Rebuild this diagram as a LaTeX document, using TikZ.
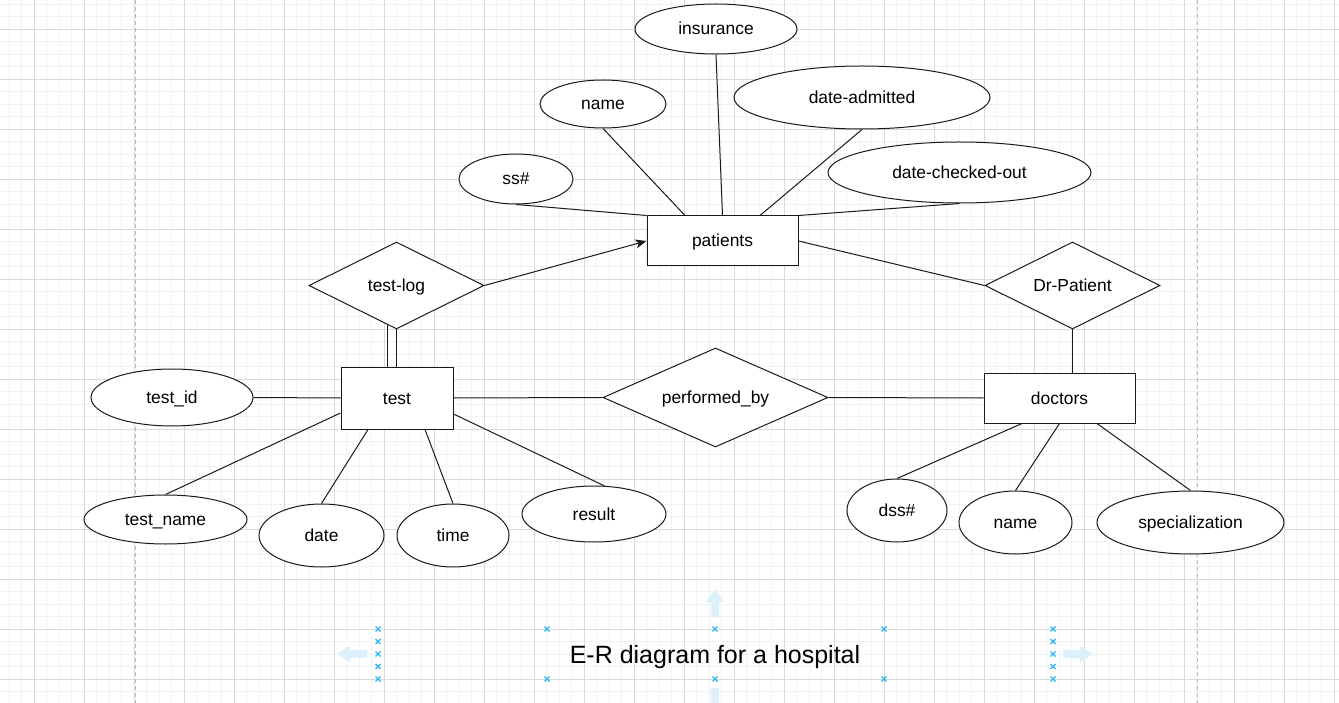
\documentclass[tikz,border=0pt]{standalone}
\usepackage{fontspec}
\setmainfont{Liberation Sans}
\usetikzlibrary{arrows.meta, calc, shapes.geometric}
\definecolor{gridMajor}{HTML}{DADADA}
\definecolor{gridMinor}{HTML}{F2F2F2}
\definecolor{pageLine}{HTML}{BDBDBD}
\definecolor{strokeMain}{HTML}{1A1A1A}
\definecolor{handleBlue}{HTML}{29B6F2}
\definecolor{hintBlue}{HTML}{DCF1FB}
\newcommand{\erlabel}{\fontsize{17.4pt}{21pt}\selectfont}
\newcommand{\ertitle}{\fontsize{25pt}{30pt}\selectfont}
\tikzset{
  labeltext/.style={
    font=\erlabel, text=black, text height=15.7pt, text depth=3.7pt,
  },
  entity/.style={
    rectangle, draw=strokeMain, fill=white, line width=1pt, inner sep=0pt,
    minimum width=151pt, minimum height=50pt, labeltext,
  },
  attrib/.style={
    ellipse, draw=strokeMain, fill=white, line width=1pt, inner sep=0pt,
    labeltext,
  },
  relation/.style={
    diamond, draw=strokeMain, fill=white, line width=1pt, inner sep=0pt,
    shape aspect=2, minimum width=175pt, minimum height=87pt, labeltext,
  },
  link/.style={
    draw=strokeMain, line width=1pt,
  },
  isalink/.style={
    link, -{Stealth[length=11pt, width=9pt, inset=3pt]},
  },
  gridminor/.style={draw=gridMinor, line width=0.8pt},
  gridmajor/.style={draw=gridMajor, line width=0.8pt},
  pageedge/.style={draw=pageLine, line width=0.9pt, dash pattern=on 4pt off 3pt},
  xmark/.style={draw=handleBlue, line width=1.3pt},
  hintarrow/.style={fill=hintBlue, draw=none},
}

\begin{document}
\begin{tikzpicture}[x=1pt, y=-1pt]

  % === Canvas and grid ===
  \useasboundingbox (0,0) rectangle (1339,703);
  \fill[white] (0,0) rectangle (1339,703);
  \foreach \gx in {9,21.5,...,1339} \draw[gridminor] (\gx,0) -- (\gx,703);
  \foreach \gy in {4,16.5,...,703} \draw[gridminor] (0,\gy) -- (1339,\gy);
  \foreach \gx in {34,84,...,1334} \draw[gridmajor] (\gx,0) -- (\gx,703);
  \foreach \gy in {29,79,...,679} \draw[gridmajor] (0,\gy) -- (1339,\gy);
  \draw[pageedge] (135,0) -- (135,703);
  \draw[pageedge] (1197,0) -- (1197,703);

  % === Entities ===
  \node[entity] (patients) at (722.5,241) {patients};
  \node[entity, minimum width=112pt, minimum height=62pt] (test) at (397,398) {test};
  \node[entity] (doctors) at (1059.5,398) {doctors};

  % === Relationships ===
  \node[relation] (testlog) at (396.5,285.5) {test-log};
  \node[relation] (drpatient) at (1072.5,285.5) {Dr-Patient};
  \node[relation, shape aspect=2.27, minimum width=225pt, minimum height=99pt] (performed) at (715.5,397.5) {performed\_by};

  % === Attributes: patients ===
  \node[attrib, minimum width=162pt, minimum height=50pt] (insurance) at (716,29) {insurance};
  \node[attrib, minimum width=126pt, minimum height=48pt] (nameP) at (603,104) {name};
  \node[attrib, minimum width=256pt, minimum height=63pt] (admitted) at (862,97.5) {date-admitted};
  \node[attrib, minimum width=114pt, minimum height=50pt] (ssn) at (516,179) {ss\#};
  \node[attrib, minimum width=263pt, minimum height=61pt] (checkedout) at (959.5,172.5) {date-checked-out};

  % === Attributes: test ===
  \node[attrib, minimum width=162pt, minimum height=57pt] (testid) at (172,397.5) {test\_id};
  \node[attrib, minimum width=163pt, minimum height=49pt] (testname) at (165.5,519.5) {test\_name};
  \node[attrib, minimum width=125pt, minimum height=63pt] (date) at (321.5,535.5) {date};
  \node[attrib, minimum width=112pt, minimum height=63pt] (time) at (453,535.5) {time};
  \node[attrib, minimum width=144pt, minimum height=56pt] (result) at (594,514) {result};

  % === Attributes: doctors ===
  \node[attrib, minimum width=100pt, minimum height=63pt] (dssn) at (897,510.5) {dss\#};
  \node[attrib, minimum width=113pt, minimum height=63pt] (nameD) at (1015.5,522.5) {name};
  \node[attrib, minimum width=187pt, minimum height=63pt] (special) at (1190.5,522.5) {specialization};

  % === Connectors: patients ===
  \draw[link] (ssn.south) -- (patients.north west);
  \draw[link] (nameP.south) -- ([xshift=-37.5pt]patients.north);
  \draw[link] (insurance.south) -- (patients.north);
  \draw[link] (admitted.south) -- ([xshift=37.5pt]patients.north);
  \draw[link] (checkedout.south) -- (patients.north east);

  % === Connectors: relationships ===
  \draw[isalink] (testlog.east) -- (patients.west);
  \draw[link] (patients.east) -- (drpatient.west);
  \draw[link] (drpatient.south) -- (drpatient.south |- doctors.north);
  \coordinate (dblTop) at ($(testlog.south)!0.103!(testlog.west)$);
  \draw[link] (testlog.south) -- (testlog.south |- test.north);
  \draw[link] (dblTop) -- (dblTop |- test.north);
  \draw[link] (test.east) -- (performed.west);
  \draw[link] (performed.east) -- (doctors.west);

  % === Connectors: test ===
  \draw[link] (testid.east) -- (test.west);
  \draw[link] (testname.north) -- ([yshift=-15pt]test.west);
  \draw[link] (date.north) -- ([xshift=-29pt]test.south);
  \draw[link] (time.north) -- ([xshift=28pt]test.south);
  \draw[link] (result.70) -- ([yshift=-16pt]test.east);

  % === Connectors: doctors ===
  \draw[link] (dssn.north) -- ([xshift=-37.5pt]doctors.south);
  \draw[link] (nameD.north) -- (doctors.south);
  \draw[link] (special.north) -- ([xshift=37.5pt]doctors.south);

  % === Caption with selection handles ===
  \node[font=\ertitle, text=black, text height=22.6pt, text depth=5.3pt] (title) at (715,655) {E-R diagram for a hospital};
  \foreach \hx/\hy in {378/629, 378/641.5, 378/654, 378/666.5, 378/679,
                       547/629, 547/679, 715/629, 715/679, 884/629, 884/679,
                       1053/629, 1053/641.5, 1053/654, 1053/666.5, 1053/679}
    \draw[xmark] (\hx-2.5,\hy-2.5) -- (\hx+2.5,\hy+2.5) (\hx-2.5,\hy+2.5) -- (\hx+2.5,\hy-2.5);
  \fill[hintarrow] (337,654) -- (350,645.5) -- (350,650) -- (367,650) -- (367,658) -- (350,658) -- (350,662.5) -- cycle;
  \fill[hintarrow] (1093,654) -- (1080,645.5) -- (1080,650) -- (1063,650) -- (1063,658) -- (1080,658) -- (1080,662.5) -- cycle;
  \fill[hintarrow] (715,589) -- (724,602) -- (719,602) -- (719,617) -- (711,617) -- (711,602) -- (706,602) -- cycle;
  \fill[hintarrow] (711,688) rectangle (719,703);

\end{tikzpicture}
\end{document}
